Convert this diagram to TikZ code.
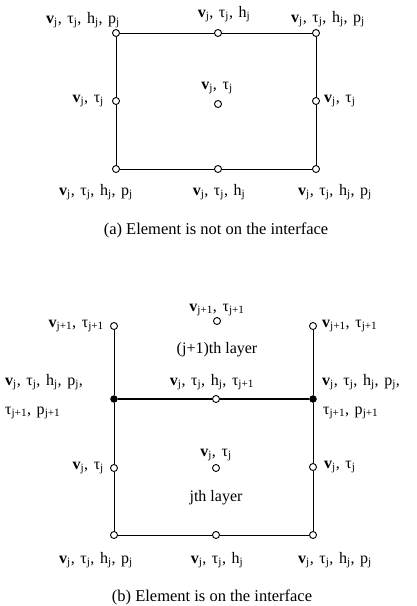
\documentclass[tikz,border=0pt]{standalone}
\usepackage{fontspec}
\setmainfont{Liberation Serif}
\usetikzlibrary{positioning}

\newcommand{\vj}{\textbf{v}\textsubscript{j}}
\newcommand{\tj}{τ\textsubscript{j}}
\newcommand{\hj}{h\textsubscript{j}}
\newcommand{\pj}{p\textsubscript{j}}
\newcommand{\vjj}{\textbf{v}\textsubscript{j+1}}
\newcommand{\tjj}{τ\textsubscript{j+1}}
\newcommand{\pjj}{p\textsubscript{j+1}}
\newcommand{\sep}{,\hspace{0.35em}}

\begin{document}
\begin{tikzpicture}[
    x=1pt, y=-1pt,
    every node/.style={font=\fontsize{16}{18}\selectfont, inner sep=0pt},
    pt/.style={draw, circle, minimum size=7pt, line width=0.9pt},
    jt/.style={draw, fill, circle, minimum size=7pt},
    frame/.style={line width=0.9pt},
    iface/.style={line width=2.8pt},
    caption/.style={font=\fontsize{16.5}{18}\selectfont}
]
\useasboundingbox (0,0) rectangle (416,606);

% (a) element not on the interface
\node[pt] (atl) at (116,33) {};
\node[pt] (atm) at (218,33) {};
\node[pt] (atr) at (316,33) {};
\node[pt] (aml) at (116,101) {};
\node[pt] (amc) at (218,104) {};
\node[pt] (amr) at (316,101) {};
\node[pt] (abl) at (116,169) {};
\node[pt] (abm) at (218,169) {};
\node[pt] (abr) at (316,169) {};
\draw[frame] (atl) -- (atm) -- (atr) -- (amr) -- (abr) -- (abm) -- (abl) -- (aml) -- (atl);

\node at (83,20) {\vj\sep\tj\sep\hj\sep\pj};
\node at (224,14) {\vj\sep\tj\sep\hj};
\node at (328,19) {\vj\sep\tj\sep\hj\sep\pj};
\node[anchor=east] at (104,101) {\vj\sep\tj};
\node at (217,88) {\vj\sep\tj};
\node[anchor=west] at (324,101) {\vj\sep\tj};
\node at (96,192) {\vj\sep\tj\sep\hj\sep\pj};
\node at (219,192) {\vj\sep\tj\sep\hj};
\node at (335,192) {\vj\sep\tj\sep\hj\sep\pj};
\node[caption] (capa) at (216,230) {(a) Element is not on the interface};

% (b) element on the interface
\node[pt] (btl) at (114,326) {};
\node[pt] (btc) at (217,321) {};
\node[pt] (btr) at (313,326) {};
\node[jt] (bil) at (114,399) {};
\node[pt] (bic) at (216,399) {};
\node[jt] (bir) at (313,399) {};
\node[pt] (bml) at (114,468) {};
\node[pt] (bmc) at (216,468) {};
\node[pt] (bmr) at (313,467) {};
\node[pt] (bbl) at (114,535) {};
\node[pt] (bbm) at (216,535) {};
\node[pt] (bbr) at (313,535) {};
\draw[frame] (btl) -- (bil) -- (bml) -- (bbl) -- (bbm) -- (bbr) -- (bmr) -- (bir) -- (btr);
\draw[iface] (bil) -- (bic) -- (bir);

\node at (217,310) {\vjj\sep\tjj};
\node[anchor=east] at (104,326) {\vjj\sep\tjj};
\node[anchor=west] at (322,326) {\vjj\sep\tjj};
\node at (217,350) {(j+1)th layer};
\node at (212,382) {\vj\sep\tj\sep\hj\sep\tjj};
\node[anchor=west] at (5,382) {\vj\sep\tj\sep\hj\sep\pj,};
\node[anchor=west] at (5,413) {\tjj\sep\pjj};
\node[anchor=west] at (322,382) {\vj\sep\tj\sep\hj\sep\pj,};
\node[anchor=west] at (323,413) {\tjj\sep\pjj};
\node[anchor=east] at (104,468) {\vj\sep\tj};
\node at (216,455) {\vj\sep\tj};
\node[anchor=west] at (324,467) {\vj\sep\tj};
\node at (216,498) {jth layer};
\node at (96,560) {\vj\sep\tj\sep\hj\sep\pj};
\node at (217,560) {\vj\sep\tj\sep\hj};
\node at (335,560) {\vj\sep\tj\sep\hj\sep\pj};
\node[caption] (capb) at (212,597) {(b) Element is on the interface};
\end{tikzpicture}
\end{document}
